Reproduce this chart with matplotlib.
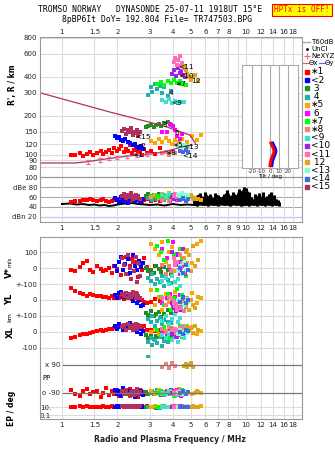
import numpy as np
import matplotlib
matplotlib.use('Agg')
import matplotlib.pyplot as plt
from matplotlib.ticker import FixedLocator, NullLocator
from matplotlib.lines import Line2D

# frequency grid / tick labels
grid_f = [1, 1.5, 2, 3, 4, 5, 6, 7, 8, 9, 10, 12, 14, 16, 18]
lab_top = ['1', '1.5', '2', '3', '4', '5', '6', '7', '8', '', '10', '12', '14', '16', '18']
lab_mid = ['1', '1.5', '2', '3', '4', '5', '6', '7', '8', '9', '10', '12', '14', '16', '18']

# echo groups: freq (MHz), R' (km), amplitude (dB), V* (m/s), YL, XL (km), PP, EP (deg)
f1 = [1.12, 1.18, 1.25, 1.30, 1.36, 1.42, 1.48, 1.55, 1.62, 1.68, 1.74, 1.80, 1.86, 1.92, 1.98, 2.05,
      2.10, 2.16, 2.22, 2.28, 2.34, 2.40, 2.46, 2.52, 2.58, 2.64, 2.72, 2.80, 2.90, 3.05, 3.20, 3.40]
r1 = [99, 100, 102, 98, 101, 104, 100, 103, 106, 101, 105, 108, 103, 112, 106, 110,
      116, 104, 111, 107, 118, 102, 109, 113, 104, 107, 100, 110, 103, 106, 101, 112]
db1 = [50, 52, 53, 55, 54, 56, 55, 53, 54, 56, 52, 51, 53, 55, 57, 54,
       56, 53, 55, 57, 52, 54, 56, 58, 55, 53, 51, 54, 56, 52, 55, 53]
v1 = [-10, -20, 5, 30, 45, -15, -25, 10, -5, -20, -12, 0, -30, 15, -8, 35,
      -45, 20, 70, -35, 10, 55, -20, 40, -55, 25, -10, 60, 5, -40, 15, -5]
yl1 = [75, 55, 45, 35, 28, 40, 30, 22, 25, 18, 20, 15, 22, 12, 18, 10,
       25, 8, 30, 15, 38, 5, 20, 42, -5, 12, 0, -15, -20, -10, 8, -5]
xl1 = [-37, -30, -22, -15, -10, -5, 2, 5, 10, 8, 15, 20, 18, 25, 22, 30,
       35, 28, 38, 33, 45, 30, 42, 50, 25, 38, 20, 35, 10, 15, 5, 12]
pp1 = [-70, -95, -110, -80, -65, -100, -85, -75, -115, -90, -60, -105, -80, -95, -70, -110,
       -85, -100, -75, -90, -65, -105, -80, -95, -115, -70, -90, -85, -100, -75, -95, -80]
ep1 = [12, 10, 14, 11, 16, 10, 13, 12, 11, 15, 10, 12, 14, 11, 13, 10,
       16, 12, 11, 14, 10, 13, 12, 15, 11, 10, 14, 12, 18, 11, 13, 10]

f2 = [1.95, 2.0, 2.05, 2.1, 2.15, 2.2, 2.28, 2.35, 2.42, 2.5, 2.56, 2.62, 2.68, 2.75]
r2 = [138, 134, 136, 130, 128, 131, 125, 122, 118, 120, 114, 112, 117, 110]
db2 = [58, 55, 50, 60, 53, 57, 48, 56, 62, 52, 59, 54, 50, 57]
v2 = [10, -20, 40, 70, -10, 25, 55, -30, 80, 15, -15, 45, 5, 30]
yl2 = [30, 15, 45, 50, 20, 35, 10, 40, -5, 25, -20, 0, -40, -30]
xl2 = [40, 20, 50, 30, 15, 45, 25, 55, 10, 35, 0, 20, -10, 5]
pp2 = [-70, -95, -80, -110, -60, -90, -100, -75, -85, -115, -65, -95, -80, -105]
ep2 = [12, 15, 10, 20, 14, 11, 18, 13, 16, 12, 22, 10, 15, 13]

f3 = [2.85, 2.95, 3.05, 3.15, 3.25, 3.35, 3.45, 3.6, 3.75, 3.9]
r3 = [162, 165, 168, 163, 170, 172, 166, 175, 178, 170]
db3 = [62, 66, 60, 64, 58, 67, 61, 63, 59, 65]
v3 = [0, -20, -10, -30, 10, -5, -25, 5, -15, -35]
yl3 = [-80, -95, -70, -100, -85, -75, -105, -90, -60, -80]
xl3 = [-20, -35, -10, -45, -25, -30, -15, -40, -50, -20]
pp3 = [-85, -95, -75, -100, -90, -80, -105, -88, -92, -70]
ep3 = [8, 10, 9, 12, 7, 11, 9, 10, 8, 13]

f4 = [2.95, 3.05, 3.1, 3.2, 3.3, 3.4, 3.5, 3.6, 3.75, 3.9]
r4 = [290, 330, 305, 350, 320, 340, 300, 330, 285, 310]
db4 = [58, 62, 55, 60, 57, 63, 59, 54, 61, 56]
v4 = [-60, -80, -40, -100, -70, -90, -50, -110, -75, -95]
yl4 = [-120, -140, -100, -160, -130, -110, -150, -125, -135, -145]
xl4 = [-60, -40, -80, -50, -70, -30, -90, -55, -65, -45]
pp4 = [150, -90, -80, -100, -70, -95, -85, -105, -75, -90]
ep4 = [9, 11, 8, 12, 10, 7, 13, 9, 11, 10]

f5 = [3.05, 3.2, 3.35, 3.5, 3.65, 3.8, 3.95, 4.1, 4.3, 4.5, 4.8, 5.1, 5.4, 5.7]
r5 = [128, 122, 132, 125, 135, 128, 120, 130, 124, 132, 126, 138, 130, 142]
db5 = [60, 64, 58, 66, 62, 68, 60, 65, 63, 58, 62, 60, 57, 55]
v5 = [150, 120, 80, 160, 40, 100, 130, -20, 90, 60, 110, 30, 150, 170]
yl5 = [60, -30, 20, -60, 40, -10, 10, 50, -40, 30, 0, 45, -20, 15]
xl5 = [0, 10, -10, 20, 5, -15, 25, 0, 15, -5, 10, 30, -10, 5]
pp5 = [-80, -95, -70, -100, -85, -90, -75, -110, -65, -95, -88, -100, -80, -92]
ep5 = [12, 14, 10, 16, 11, 13, 15, 12, 10, 14, 11, 13, 12, 15]

f6 = [3.5, 3.7, 3.85, 4.0, 4.1, 4.2, 4.35, 4.5]
r6 = [150, 148, 172, 165, 155, 140, 132, 145]
db6 = [55, 60, 52, 58, 62, 54, 57, 60]
v6 = [120, 60, -10, 160, 30, 90, -40, 10]
yl6 = [-20, 10, 40, -40, 20, -10, 30, 0]
xl6 = [0, -20, 20, -10, 10, -30, 15, 5]
pp6 = [-90, -80, -100, -95, -85, -70, -105, -90]
ep6 = [11, 13, 10, 12, 14, 9, 12, 11]

f7 = [3.3, 3.45, 3.6, 3.75, 3.9, 4.05, 4.2, 4.35, 4.5, 4.7]
r7 = [350, 365, 345, 372, 360, 380, 355, 368, 350, 345]
db7 = [62, 58, 65, 60, 56, 63, 59, 61, 57, 54]
v7 = [140, 100, 50, 170, -20, 80, 30, 120, 60, -50]
yl7 = [60, 20, -30, 40, -60, 10, 70, -10, 30, -45]
xl7 = [10, -20, 30, -40, 0, 20, -10, 40, -30, 5]
pp7 = [-90, -75, -100, -85, -95, -110, -80, -90, -70, -100]
ep7 = [12, 10, 14, 11, 9, 13, 12, 10, 15, 11]

f8 = [3.5, 3.65, 3.8, 3.95, 4.1]
r8 = [102, 104, 100, 106, 103]
db8 = [55, 58, 53, 57, 56]
v8 = [20, -40, 10, -20, 40]
yl8 = [10, -30, 20, 0, -10]
xl8 = [20, 0, 30, 10, -10]
pp8 = [80, 95, 70, 100, 85]
ep8 = [10, 12, 9, 11, 13]

f9 = [3.5, 3.65, 3.8, 3.95, 4.1, 4.25, 4.4, 4.6]
r9 = [262, 255, 268, 250, 258, 252, 256, 254]
db9 = [64, 60, 66, 62, 58, 65, 61, 63]
v9 = [-80, -60, -100, -50, -90, -70, -110, -40]
yl9 = [-130, -100, -150, -120, -90, -140, -110, -160]
xl9 = [-20, -40, -10, -50, -30, -60, -15, -35]
pp9 = [-90, -100, -80, -95, -85, -105, -75, -90]
ep9 = [10, 12, 9, 13, 11, 10, 14, 12]

f10 = [3.95, 4.05, 4.15, 4.25, 4.35, 4.45, 4.55, 4.65]
r10 = [420, 450, 405, 470, 430, 445, 410, 400]
db10 = [60, 57, 63, 59, 55, 61, 58, 56]
v10 = [100, 60, 20, 80, -10, 40, 120, -40]
yl10 = [-20, -50, -70, 0, -40, -60, 20, -30]
xl10 = [-10, 10, -30, 0, 20, -20, 5, -5]
pp10 = [-90, -80, -100, -85, -95, -110, -75, -90]
ep10 = [11, 9, 13, 10, 12, 14, 10, 11]

f11 = [4.05, 4.12, 4.2, 4.28, 4.35, 4.42, 4.5, 4.58]
r11 = [520, 560, 490, 540, 575, 480, 510, 470]
db11 = [62, 66, 60, 64, 58, 63, 61, 59]
v11 = [60, 20, 40, -10, 80, 0, 30, -30]
yl11 = [-20, -40, -60, -30, 0, -50, -10, -70]
xl11 = [10, 20, 5, 15, 25, 0, 30, 12]
pp11 = [-85, -95, -80, -100, -90, -75, -105, -88]
ep11 = [12, 10, 14, 11, 13, 9, 12, 15]

f12 = [4.6, 4.7, 4.8, 4.9, 5.0, 5.15, 5.3, 5.5]
r12 = [480, 450, 420, 400, 380, 395, 410, 370]
db12 = [58, 62, 55, 60, 64, 57, 59, 56]
v12 = [60, 100, 30, 80, -20, 140, 10, 50]
yl12 = [-20, -40, 10, -60, 0, -30, -50, 20]
xl12 = [20, 0, 35, 10, 25, -5, 40, 15]
pp12 = [85, 95, 75, 90, 100, 80, -90, -85]
ep12 = [13, 11, 15, 12, 10, 14, 12, 11]

f13 = [4.25, 4.4, 4.5, 4.6, 4.7, 4.85]
r13 = [116, 119, 114, 118, 113, 117]
db13 = [65, 62, 68, 60, 64, 63]
v13 = [-20, 10, -40, 30, -10, 20]
yl13 = [0, -20, 10, -30, 5, -10]
xl13 = [-10, 10, -20, 0, 15, -5]
pp13 = [-90, -85, -100, -80, -95, -90]
ep13 = [12, 10, 13, 11, 14, 12]

f14 = [4.4, 4.55, 4.7, 4.85]
r14 = [106, 104, 108, 105]
db14 = [55, 58, 52, 56]
v14 = [0, -30, 20, -10]
yl14 = [-10, 10, -20, 0]
xl14 = [0, -15, 10, 5]
pp14 = [-90, -80, -100, -85]
ep14 = [11, 13, 10, 12]

f15 = [2.12, 2.18, 2.22, 2.28, 2.33, 2.38, 2.42, 2.47, 2.52, 2.56, 2.6, 2.65]
r15 = [152, 158, 145, 155, 148, 160, 142, 150, 146, 155, 140, 148]
db15 = [62, 66, 58, 64, 60, 68, 56, 63, 65, 59, 62, 57]
v15 = [60, 20, -40, 80, 0, -70, 40, -20, 70, -90, 30, -50]
yl15 = [40, 25, 45, 15, 35, 20, 50, 30, 10, 40, 25, 15]
xl15 = [30, 45, 15, 50, 25, 40, 10, 35, 48, 20, 42, 28]
pp15 = [-80, -100, -70, -95, -110, -85, -75, -105, -90, -65, -100, -85]
ep15 = [14, 11, 18, 12, 16, 10, 13, 20, 11, 15, 12, 17]

group_names = ['\u22171', '<2', ' 3', ' 4', '\u22175', ' 6', '\u22177', '\u22178',
               '<9', '<10', '<11', ' 12', '<13', '<14', '<15']
group_cols = ['#ff0000', '#0000ff', '#228b22', '#20b2aa', '#ffa500', '#ff00ff', '#00ff00', '#f08080',
              '#40e0d0', '#a020f0', '#ff6eb4', '#daa520', '#7fffd4', '#4169e1', '#b03060']

# group labels inside the R' panel
tag_f = [2.4, 2.49, 3.5, 3.81, 3.96, 4.1, 4.1, 3.63, 3.91, 4.27, 4.27, 5.05, 4.54, 4.48, 2.49]
tag_r = [99, 117, 168, 301, 119, 146, 352, 103, 250, 408, 478, 372, 114, 98, 136]
tag_txt = ['\u22171', '<2', '3', '4', '\u22175', '6', '\u22177', '\u22178',
           '<9', '<10', '<11', '12', '<13', '<14', '<15']

# model curves
mod_f = [0.76, 1.82, 3.54, 4.96, 5.3]
mod_r = [300, 213, 167, 141, 122]
true_f = [0.76, 1.18, 1.38, 1.6, 1.8, 2.0, 2.25, 2.55, 2.9, 3.5, 3.9, 4.5, 5.1]
true_r = [86, 86, 88, 91, 93, 95, 97, 99, 100, 104, 108, 115, 118]
ne_f = [1.38, 1.6, 1.8, 2.0, 2.25, 2.55, 2.9]
ne_r = [88, 91, 93, 95, 97, 99, 100]
ne_err = [3, 3, 3, 3, 3, 3, 3]

# tilt inset
tilt_r = [82, 86, 90, 94, 98, 102, 106, 110, 114, 118, 122]
theta_x = [0, 0.5, 1, 2, 3, 4, 4.5, 4, 3, 2, 1]
theta_y = [2, 2.5, 3, 4, 5, 6, 6.5, 6, 5, 4, 3]

# noise / amplitude floor
floor_f = [1.0, 1.1, 1.2, 1.3, 1.4, 1.5, 1.6, 1.7, 1.8, 1.9, 2.0, 2.2, 2.4, 2.6, 2.8, 3.0,
           3.3, 3.6, 4.0, 4.4, 4.8, 5.2]
floor_db = [46, 47, 45, 46, 44, 45, 43, 44, 42, 43, 45, 47, 48, 46, 45, 44,
            45, 43, 46, 44, 45, 44]
noise_f = [5.2, 5.4, 5.6, 5.8, 6.0, 6.2, 6.4, 6.6, 6.8, 7.0, 7.3, 7.6, 7.9, 8.2, 8.5, 8.8,
           9.1, 9.4, 9.7, 10.0, 10.3, 10.6, 10.9, 11.2, 11.5, 11.8, 12.1, 12.4, 12.7, 13.0,
           13.3, 13.6, 13.9, 14.2, 14.5, 14.8, 15.1]
noise_lo = [44, 42, 45, 43, 44, 42, 45, 43, 44, 42, 45, 43, 44, 42, 45, 43,
            44, 42, 43, 44, 42, 45, 43, 44, 42, 45, 43, 44, 42, 45,
            43, 44, 42, 45, 43, 44, 42]
noise_hi = [58, 64, 68, 60, 70, 62, 66, 58, 68, 64, 60, 66, 74, 62, 70, 64,
            76, 72, 80, 78, 70, 60, 56, 66, 62, 68, 60, 70, 58, 62,
            66, 70, 60, 64, 56, 54, 50]

groups = [(f1, r1, db1, v1, yl1, xl1, pp1, ep1), (f2, r2, db2, v2, yl2, xl2, pp2, ep2),
          (f3, r3, db3, v3, yl3, xl3, pp3, ep3), (f4, r4, db4, v4, yl4, xl4, pp4, ep4),
          (f5, r5, db5, v5, yl5, xl5, pp5, ep5), (f6, r6, db6, v6, yl6, xl6, pp6, ep6),
          (f7, r7, db7, v7, yl7, xl7, pp7, ep7), (f8, r8, db8, v8, yl8, xl8, pp8, ep8),
          (f9, r9, db9, v9, yl9, xl9, pp9, ep9), (f10, r10, db10, v10, yl10, xl10, pp10, ep10),
          (f11, r11, db11, v11, yl11, xl11, pp11, ep11), (f12, r12, db12, v12, yl12, xl12, pp12, ep12),
          (f13, r13, db13, v13, yl13, xl13, pp13, ep13), (f14, r14, db14, v14, yl14, xl14, pp14, ep14),
          (f15, r15, db15, v15, yl15, xl15, pp15, ep15)]

MS = 5.5  # marker area

W, H = 335, 451
fig = plt.figure(figsize=(W / 100, H / 100), dpi=100)


def rect(l, t, r, b):
    return [l / W, 1 - b / H, (r - l) / W, (b - t) / H]


def fx(x):
    return x / W


def fy(y):
    return 1 - y / H


ax_r = fig.add_axes(rect(40, 37, 302, 177))
ax_db = fig.add_axes(rect(40, 177, 302, 222))
ax_v = fig.add_axes(rect(40, 237, 302, 355))
ax_pp = fig.add_axes(rect(40, 355, 302, 399))
ax_ep = fig.add_axes(rect(40, 399, 302, 419))

for ax in (ax_r, ax_db, ax_v, ax_pp, ax_ep):
    ax.set_xscale('log')
    ax.set_xlim(0.76, 20.1)
    ax.xaxis.set_major_locator(FixedLocator(grid_f))
    ax.xaxis.set_minor_locator(NullLocator())
    ax.set_xticklabels([''] * len(grid_f))
    ax.grid(True, axis='both', color='#dcdcdc', lw=0.8)
    ax.set_axisbelow(True)
    ax.tick_params(length=0, labelsize=5, colors='#222222', pad=2)
    for s in ax.spines.values():
        s.set_color('#999999')
        s.set_linewidth(0.8)

# ---- R' panel
ax_r.set_yscale('log')
ax_r.set_ylim(67, 810)
ax_r.yaxis.set_major_locator(FixedLocator([80, 90, 100, 120, 150, 200, 300, 400, 600, 800]))
ax_r.yaxis.set_minor_locator(NullLocator())
ax_r.set_yticklabels(['80', '90', '100', '120', '150', '200', '300', '400', '600', '800'])
ax_r.tick_params(axis='x', labeltop=True, labelbottom=False, pad=1.5)
ax_r.set_xticklabels(lab_top)
ax_r.plot(mod_f, mod_r, color='#b03060', lw=0.9)
ax_r.plot(true_f, true_r, color='#b03060', lw=0.9)
ax_r.errorbar(ne_f, ne_r, yerr=ne_err, fmt='none', ecolor='#e0709a', capsize=1.5, lw=0.8)
for g, c in zip(groups, group_cols):
    ax_r.scatter(g[0], g[1], s=MS, marker='s', color=c, linewidths=0)
for x, y, t in zip(tag_f, tag_r, tag_txt):
    ax_r.text(x, y, t, fontsize=5.3, ha='left', va='center', color='black')

# tilt inset
ax_t = fig.add_axes(rect(242, 65, 298, 168))
ax_t.set_yscale('log')
ax_t.set_ylim(78.5, 487)
ax_t.set_xlim(-31, 31)
ax_t.yaxis.set_major_locator(NullLocator())
ax_t.yaxis.set_minor_locator(NullLocator())
ax_t.set_xticks([-20, -10, 0, 10, 20])
ax_t.set_xticklabels(['-20', '-10', '0', '10', '20'])
ax_t.tick_params(length=0, labelsize=4, pad=1, colors='#333333')
ax_t.grid(True, axis='x', color='#aaaaaa', lw=0.8)
for s in ax_t.spines.values():
    s.set_color('#aaaaaa')
ax_t.set_xlabel('Tilt / deg', fontsize=4, labelpad=0)
ax_t.plot(theta_y, tilt_r, color='#0000ff', lw=2.2)
ax_t.plot(theta_x, tilt_r, color='#ff0000', lw=2.2)

# ---- amplitude panel
ax_db.set_ylim(10, 100)
ax_db.set_yticks([20, 40, 60, 80, 100])
ax_db.set_yticklabels(['dBn 20', '40', '60', 'dBe 80', '100'])
ax_db.grid(False, axis='y')
for yv in [40, 60, 80, 100]:
    ax_db.axhline(yv, color='#aaaaaa', lw=0.8, zorder=0)
ax_db.axhline(20, color='#c8c8f0', lw=1.0, zorder=0)
ax_db.set_xticklabels(lab_mid)
ax_db.plot(floor_f, floor_db, color='black', lw=1.4, zorder=1)
ax_db.vlines(noise_f, noise_lo, noise_hi, color='black', lw=2.2, zorder=1)
ax_db.fill_between(noise_f, noise_lo, noise_hi, color='black', lw=0, zorder=1)
for g, c in zip(groups, group_cols):
    ax_db.scatter(g[0], g[2], s=MS, marker='s', color=c, linewidths=0, zorder=2)

# ---- V*, YL, XL panel (stacked bands)
ax_v.set_ylim(-544, 194)
ax_v.set_yticks([100, 0, -100, -200, -300, -400, -500])
ax_v.set_yticklabels(['100', '0', '+-100', '0', '+-100', '0', '-100'])
ax_v.spines['bottom'].set_visible(False)
for g, c in zip(groups, group_cols):
    ax_v.scatter(g[0], g[3], s=MS, marker='s', color=c, linewidths=0)
    ax_v.scatter(g[0], np.array(g[4]) - 200, s=MS, marker='s', color=c, linewidths=0)
    ax_v.scatter(g[0], np.array(g[5]) - 400, s=MS, marker='s', color=c, linewidths=0)

# ---- PP panel
ax_pp.set_ylim(-129, 154)
ax_pp.set_yticks([])
ax_pp.grid(False, axis='y')
ax_pp.spines['top'].set_visible(False)
ax_pp.spines['bottom'].set_visible(False)
ax_pp.hlines([90, -90], 1.0, 20.1, color='#777777', lw=0.9)
ax_pp.text(0.98, 90, 'x 90', fontsize=5, ha='right', va='center', color='#222222')
ax_pp.text(0.98, -90, 'o -90', fontsize=5, ha='right', va='center', color='#222222')
ax_pp.text(0.01, 0.48, 'PP', transform=ax_pp.transAxes, fontsize=5, ha='left', va='center')
for g, c in zip(groups, group_cols):
    ax_pp.scatter(g[0], g[6], s=MS, marker='s', color=c, linewidths=0)

# ---- EP panel
ax_ep.set_yscale('log')
ax_ep.set_ylim(0.01, 1000)
ax_ep.yaxis.set_major_locator(FixedLocator([0.1, 10]))
ax_ep.yaxis.set_minor_locator(NullLocator())
ax_ep.set_yticklabels(['0.1', '10.'])
ax_ep.tick_params(axis='y', pad=-8)
ax_ep.spines['top'].set_visible(False)
ax_ep.set_xticklabels(lab_top)
for g, c in zip(groups, group_cols):
    ax_ep.scatter(g[0], g[7], s=MS, marker='s', color=c, linewidths=0)

# axis labels
fig.text(fx(13), fy(85), "R', R / km", rotation=90, fontsize=5.5, fontweight='bold', ha='center', va='center')
fig.text(fx(9), fy(273), 'V*', rotation=90, fontsize=6, fontweight='bold', ha='center', va='center')
fig.text(fx(9), fy(262), 'm/s', rotation=90, fontsize=4, ha='center', va='center')
fig.text(fx(10), fy(299), 'YL', rotation=90, fontsize=6, fontweight='bold', ha='center', va='center')
fig.text(fx(10), fy(317), 'km', rotation=90, fontsize=4.5, ha='center', va='center')
fig.text(fx(10), fy(332), 'XL', rotation=90, fontsize=6, fontweight='bold', ha='center', va='center')
fig.text(fx(12), fy(408), 'EP / deg', rotation=90, fontsize=5.5, fontweight='bold', ha='center', va='center')
fig.text(fx(170), fy(439), 'Radio and Plasma Frequency / MHz', fontsize=5.5, fontweight='bold',
         ha='center', va='center', color='#222222')

# header
fig.text(fx(150), fy(10), 'TROMSO NORWAY   DYNASONDE 25-07-11 1918UT 15\u00b0E',
         family='DejaVu Sans Mono', fontsize=5.8, ha='center', va='center')
fig.text(fx(157), fy(20), '8pBP6It DoY= 192.804 File= TR747503.BPG',
         family='DejaVu Sans Mono', fontsize=5.8, ha='center', va='center')
fig.text(fx(302), fy(10), 'HPTx is OFF!', family='DejaVu Sans Mono', fontsize=5.5, color='red',
         ha='center', va='center',
         bbox=dict(facecolor='yellow', edgecolor='red', lw=0.8, boxstyle='square,pad=0.25'))

# legend (drawn by hand)
fig.add_artist(Line2D([fx(303), fx(310)], [fy(42), fy(42)], color='#aaaaaa', lw=1))
fig.text(fx(311), fy(42), 'T60dB', fontsize=5, ha='left', va='center')
fig.add_artist(Line2D([fx(307)], [fy(49)], marker='.', color='black', ms=2))
fig.text(fx(311), fy(49), 'UnCl', fontsize=5, ha='left', va='center')
fig.add_artist(Line2D([fx(307)], [fy(56)], marker='+', color='#ff6080', ms=4, mew=0.8))
fig.text(fx(311), fy(56), 'NeXYZ', fontsize=5, ha='left', va='center')
fig.add_artist(Line2D([fx(303), fx(309)], [fy(63), fy(63)], color='#ff5050', lw=0.8))
fig.text(fx(309), fy(63), '\u0398x', fontsize=5, ha='left', va='center')
fig.add_artist(Line2D([fx(319), fx(325)], [fy(63), fy(63)], color='#6060ff', lw=0.8))
fig.text(fx(325), fy(63), '\u0398y', fontsize=5, ha='left', va='center')
for i, (name, c) in enumerate(zip(group_names, group_cols)):
    yy = fy(72 + 8.2 * i)
    fig.add_artist(Line2D([fx(307)], [yy], marker='s', color=c, ms=2.5, lw=0))
    fig.text(fx(311), yy, name, fontsize=6.5, ha='left', va='center')

fig.savefig('out.png', dpi=100)
